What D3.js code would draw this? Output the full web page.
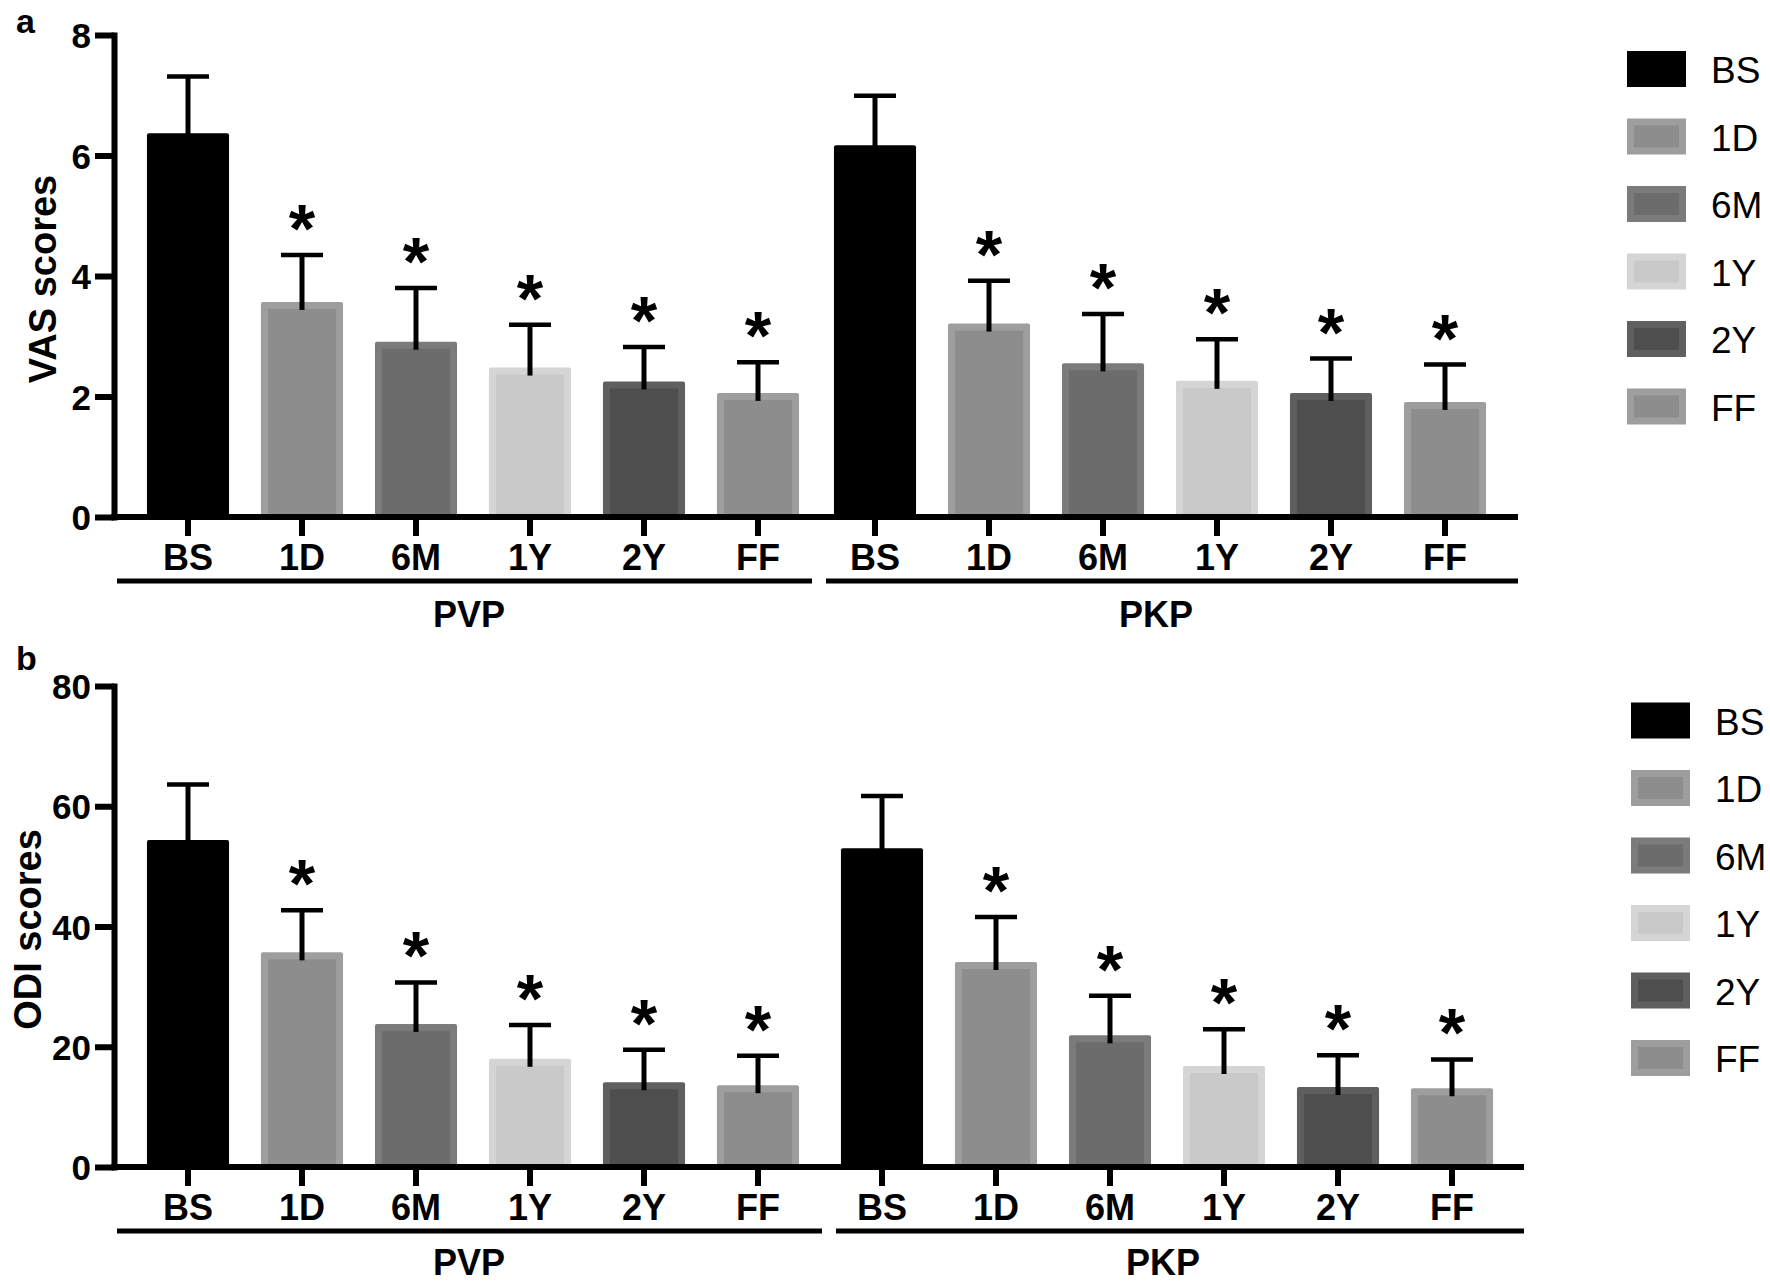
<!DOCTYPE html>
<html><head><meta charset="utf-8">
<script src="https://cdn.jsdelivr.net/npm/d3@7"></script>
<style>body{margin:0;background:#fff} svg{display:block}</style>
</head><body>
<svg id="c" width="1770" height="1282"></svg>
<script>
// ---------- data ----------
const categories = ["BS","1D","6M","1Y","2Y","FF"];
const groups = ["PVP","PKP"];
const vasTicks = [0,2,4,6,8];
const odiTicks = [0,20,40,60,80];
const vasPVP   = [6.37,3.57,2.91,2.48,2.25,2.06];
const vasPVPsd = [0.94,0.78,0.89,0.71,0.57,0.51];
const vasPKP   = [6.17,3.21,2.55,2.26,2.06,1.91];
const vasPKPsd = [0.82,0.71,0.82,0.69,0.57,0.62];
const odiPVP   = [54.4,35.7,23.8,18.0,14.1,13.6];
const odiPVPsd = [9.2,7.0,6.9,5.6,5.4,4.9];
const odiPKP   = [53.0,34.1,21.9,16.8,13.3,13.1];
const odiPKPsd = [8.7,7.5,6.6,6.1,5.3,4.8];
const significant = [false,true,true,true,true,true];

// ---------- styles ----------
const innerFill = ["#000000","#8d8d8d","#6c6c6c","#c9c9c9","#4e4e4e","#8d8d8d"];
const borderFill = ["#000000","#9e9e9e","#7b7b7b","#d5d5d5","#5f5f5f","#9e9e9e"];
const FONT = "'Liberation Sans', Arial, Helvetica, sans-serif";

const svg = d3.select("#c");

function drawPanel(cfg) {
  const g = svg.append("g");
  const y = d3.scaleLinear().domain([0, cfg.max]).range([cfg.yBottom, cfg.yTop]);
  const outer = d3.scaleBand().domain(groups).range(cfg.bandRange).paddingInner(cfg.pIn);
  const inner = d3.scaleBand().domain(categories).range([0, outer.bandwidth()])
                  .paddingInner(0.28).paddingOuter(0.14);

  const rows = [];
  groups.forEach(gr => {
    const vals = cfg.values[gr], sds = cfg.sds[gr];
    categories.forEach((c, i) => rows.push({group: gr, cat: c, i, v: vals[i], sd: sds[i]}));
  });
  const cx = d => outer(d.group) + inner(d.cat) + inner.bandwidth() / 2;
  const bw = inner.bandwidth();
  const inset = 7;

  // bars
  const bars = g.append("g").selectAll("g").data(rows).join("g");
  bars.append("rect")
    .attr("x", d => cx(d) - bw / 2).attr("width", bw)
    .attr("y", d => y(d.v)).attr("height", d => y(0) - y(d.v))
    .attr("rx", 2).attr("fill", d => borderFill[d.i]);
  bars.filter(d => d.i > 0).append("rect")
    .attr("x", d => cx(d) - bw / 2 + inset).attr("width", bw - 2 * inset)
    .attr("y", d => y(d.v) + inset).attr("height", d => y(0) - y(d.v) - inset)
    .attr("fill", d => innerFill[d.i]);

  // error bars
  bars.append("line")
    .attr("x1", cx).attr("x2", cx)
    .attr("y1", d => y(d.v) + 8).attr("y2", d => y(d.v + d.sd))
    .attr("stroke", "#000").attr("stroke-width", 5);
  bars.append("line")
    .attr("x1", d => cx(d) - 21).attr("x2", d => cx(d) + 21)
    .attr("y1", d => y(d.v + d.sd)).attr("y2", d => y(d.v + d.sd))
    .attr("stroke", "#000").attr("stroke-width", 4.5);

  // asterisks
  bars.filter(d => significant[d.i]).append("text")
    .attr("x", cx).attr("y", d => y(d.v + d.sd) - 3)
    .attr("text-anchor", "middle").attr("font-family", FONT)
    .attr("font-weight", "bold").attr("font-size", 68).text("*");

  // y axis
  const ya = g.append("g").attr("transform", `translate(${cfg.axisX},0)`)
    .call(d3.axisLeft(y).tickValues(cfg.ticks).tickSize(19).tickSizeOuter(0).tickPadding(4));
  ya.select(".domain").attr("stroke-width", 6).attr("stroke-linecap", "square");
  ya.selectAll(".tick line").attr("stroke-width", 6);
  ya.selectAll(".tick text").attr("font-family", FONT).attr("font-weight", "bold")
    .attr("font-size", 35).attr("fill", "#000").attr("dy", "0.36em");

  // x axis line
  g.append("line").attr("x1", cfg.axisX - 3).attr("x2", cfg.axisEnd)
    .attr("y1", y(0)).attr("y2", y(0)).attr("stroke", "#000").attr("stroke-width", 6);
  // x ticks + labels
  const xt = g.append("g").selectAll("g").data(rows).join("g");
  xt.append("line").attr("x1", cx).attr("x2", cx)
    .attr("y1", y(0)).attr("y2", y(0) + 19).attr("stroke", "#000").attr("stroke-width", 6);
  xt.append("text").attr("x", cx).attr("y", y(0) + 53)
    .attr("text-anchor", "middle").attr("font-family", FONT).attr("font-weight", "bold")
    .attr("font-size", 36).text(d => d.cat);

  // group lines + labels
  groups.forEach((gr, k) => {
    const ext = cfg.groupLines[k];
    g.append("line").attr("x1", ext[0]).attr("x2", ext[1])
      .attr("y1", y(0) + 64).attr("y2", y(0) + 64)
      .attr("stroke", "#000").attr("stroke-width", 5);
    g.append("text").attr("x", outer(gr) + outer.bandwidth() / 2 - 4)
      .attr("y", y(0) + cfg.groupLabelDy)
      .attr("text-anchor", "middle").attr("font-family", FONT).attr("font-weight", "bold")
      .attr("font-size", 36).text(gr);
  });

  // y title
  g.append("text")
    .attr("transform", `translate(${cfg.titleX},${(y(0) + y(cfg.max)) / 2 + 3}) rotate(-90)`)
    .attr("text-anchor", "middle").attr("font-family", FONT).attr("font-weight", "bold")
    .attr("font-size", 38).text(cfg.title);

  // panel letter
  g.append("text").attr("x", 16).attr("y", cfg.letterY)
    .attr("font-family", FONT).attr("font-weight", "bold").attr("font-size", 34).text(cfg.letter);

  // legend
  const lg = g.append("g").selectAll("g").data(categories).join("g")
    .attr("transform", (d, i) => `translate(${cfg.legendX},${cfg.legendY + i * 67.5})`);
  lg.append("rect").attr("x", 0).attr("y", -18).attr("width", 59).attr("height", 36)
    .attr("fill", (d, i) => borderFill[i]);
  lg.filter((d, i) => i > 0).append("rect").attr("x", inset).attr("y", -18 + inset)
    .attr("width", 59 - 2 * inset).attr("height", 36 - 2 * inset)
    .attr("fill", (d, i) => innerFill[i + 1]);
  lg.append("text").attr("x", 84).attr("y", 14)
    .attr("font-family", FONT).attr("font-size", 37).text(d => d);
}

drawPanel({
  max: 8, ticks: vasTicks, yBottom: 517, yTop: 35,
  values: {PVP: vasPVP, PKP: vasPKP}, sds: {PVP: vasPVPsd, PKP: vasPKPsd},
  bandRange: [131, 1502], pIn: 0.00437, axisX: 114, axisEnd: 1518,
  groupLines: [[117, 812], [826, 1518]], groupLabelDy: 110,
  title: "VAS scores", titleX: 56, letter: "a", letterY: 33,
  legendX: 1627, legendY: 69
});
drawPanel({
  max: 80, ticks: odiTicks, yBottom: 1167, yTop: 686,
  values: {PVP: odiPVP, PKP: odiPKP}, sds: {PVP: odiPVPsd, PKP: odiPKPsd},
  bandRange: [131, 1509], pIn: 0.0144, axisX: 114, axisEnd: 1524,
  groupLines: [[117, 822], [836, 1524]], groupLabelDy: 108,
  title: "ODI scores", titleX: 41, letter: "b", letterY: 670,
  legendX: 1631, legendY: 720.5
});
</script>
</body></html>
